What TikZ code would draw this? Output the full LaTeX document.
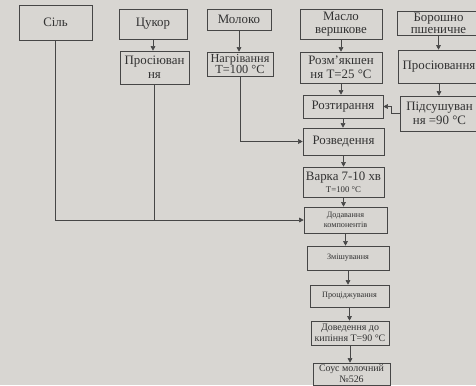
\documentclass[tikz,border=0pt]{standalone}
\usepackage{fontspec}
\setmainfont{Liberation Serif}
\usepackage{xcolor}
\usetikzlibrary{arrows.meta, positioning, calc}
\definecolor{paper}{RGB}{216,214,210}
\definecolor{ink}{RGB}{70,70,70}
\definecolor{textink}{RGB}{50,50,50}

\begin{document}
\begin{tikzpicture}[
    x=0.03cm, y=-0.03cm,
    font=\fontsize{11}{12}\selectfont,
    stepbox/.style={draw=ink, line width=0.5pt, text=textink, align=center, inner sep=1pt},
    smallbox/.style={stepbox, font=\fontsize{7}{8.5}\selectfont},
    arr/.style={-{Triangle[length=4pt, width=4pt]}, line width=0.5pt, draw=ink},
    line/.style={line width=0.5pt, draw=ink}
]
\fill[paper] (0,0) rectangle (476,385);
\useasboundingbox (0,0) rectangle (476,385);

% === RAW MATERIALS ===
\node[stepbox, minimum width=2.19cm, minimum height=1.05cm] (salt) at (55.5, 22.5) {Сіль};
\node[stepbox, minimum width=2.04cm, minimum height=0.9cm] (sugar) at (153, 24) {Цукор};
\node[stepbox, minimum width=1.92cm, minimum height=0.63cm] (milk) at (239, 19.5) {Молоко};
\node[stepbox, minimum width=2.46cm, minimum height=0.9cm] (butter) at (341, 24) {Масло\\[-1pt]вершкове};
\node[stepbox, minimum width=2.49cm, minimum height=0.72cm] (flour) at (438.5, 23) {Борошно\\[-2pt]пшеничне};

% === PREPARATION ===
\node[stepbox, minimum width=2.07cm, minimum height=0.99cm] (sift1) at (154.5, 67.5) {Просіюван\\ня};
\node[stepbox, font=\fontsize{10.5}{11}\selectfont, minimum width=1.98cm, minimum height=0.72cm] (heat) at (240, 64) {Нагрівання\\[-2pt]T=100 °C};
\node[stepbox, minimum width=2.46cm, minimum height=0.93cm] (soften) at (341, 67.5) {Розм’якшен\\ня T=25 °C};
\node[stepbox, minimum width=2.43cm, minimum height=0.99cm] (sift2) at (439, 66.5) {Просіювання};
\node[stepbox, minimum width=2.37cm, minimum height=1.05cm] (dry) at (439.5, 113.5) {Підсушуван\\ня =90 °C};

% === MAIN LINE ===
\node[stepbox, minimum width=2.4cm, minimum height=0.69cm] (rub) at (343, 106.5) {Розтирання};
\node[stepbox, minimum width=2.43cm, minimum height=0.81cm] (dilute) at (343.5, 141.5) {Розведення};
\node[stepbox, minimum width=2.43cm, minimum height=0.9cm] (boil) at (343.5, 182) {Варка 7-10 хв\\[-2pt]{\fontsize{7.5}{8}\selectfont T=100 °C}};
\node[smallbox, minimum width=2.49cm, minimum height=0.78cm] (add) at (345.5, 220) {Додавання\\компонентів};
\node[smallbox, minimum width=2.46cm, minimum height=0.72cm] (mix) at (348, 258) {Змішування};
\node[smallbox, minimum width=2.37cm, minimum height=0.66cm] (strain) at (349.5, 296) {Проціджування};
\node[stepbox, font=\fontsize{8.5}{9.5}\selectfont, minimum width=2.34cm, minimum height=0.72cm] (bring) at (350, 333) {Доведення до\\кипіння T=90 °C};
\node[stepbox, font=\fontsize{8.5}{9.5}\selectfont, minimum width=2.31cm, minimum height=0.66cm] (sauce) at (351.5, 374) {Соус молочний\\№526};

% === ARROWS ===
\draw[arr] (sugar.south) -- (sugar.south |- sift1.north);
\draw[arr] (milk.south) -- (milk.south |- heat.north);
\draw[arr] (butter.south) -- (butter.south |- soften.north);
\draw[arr] (flour.south) -- (flour.south |- sift2.north);
\draw[arr] (sift2.south) -- (sift2.south |- dry.north);
\draw[arr] (soften.south) -- (soften.south |- rub.north);
\draw[arr] (dry.west) -- ++(-8,0) |- (rub.east);
\foreach \a/\b in {rub/dilute, dilute/boil, boil/add, add/mix, mix/strain, strain/bring, bring/sauce} {
    \draw[arr] (\a.south) -- (\a.south |- \b.north);
}

% === SIDE LINES ===
\draw[arr] (heat.south) |- (dilute.west);
\draw[arr] (salt.south) |- (add.west);
\draw[line] (sift1.south) -- (sift1.south |- add.west);

\end{tikzpicture}
\end{document}
